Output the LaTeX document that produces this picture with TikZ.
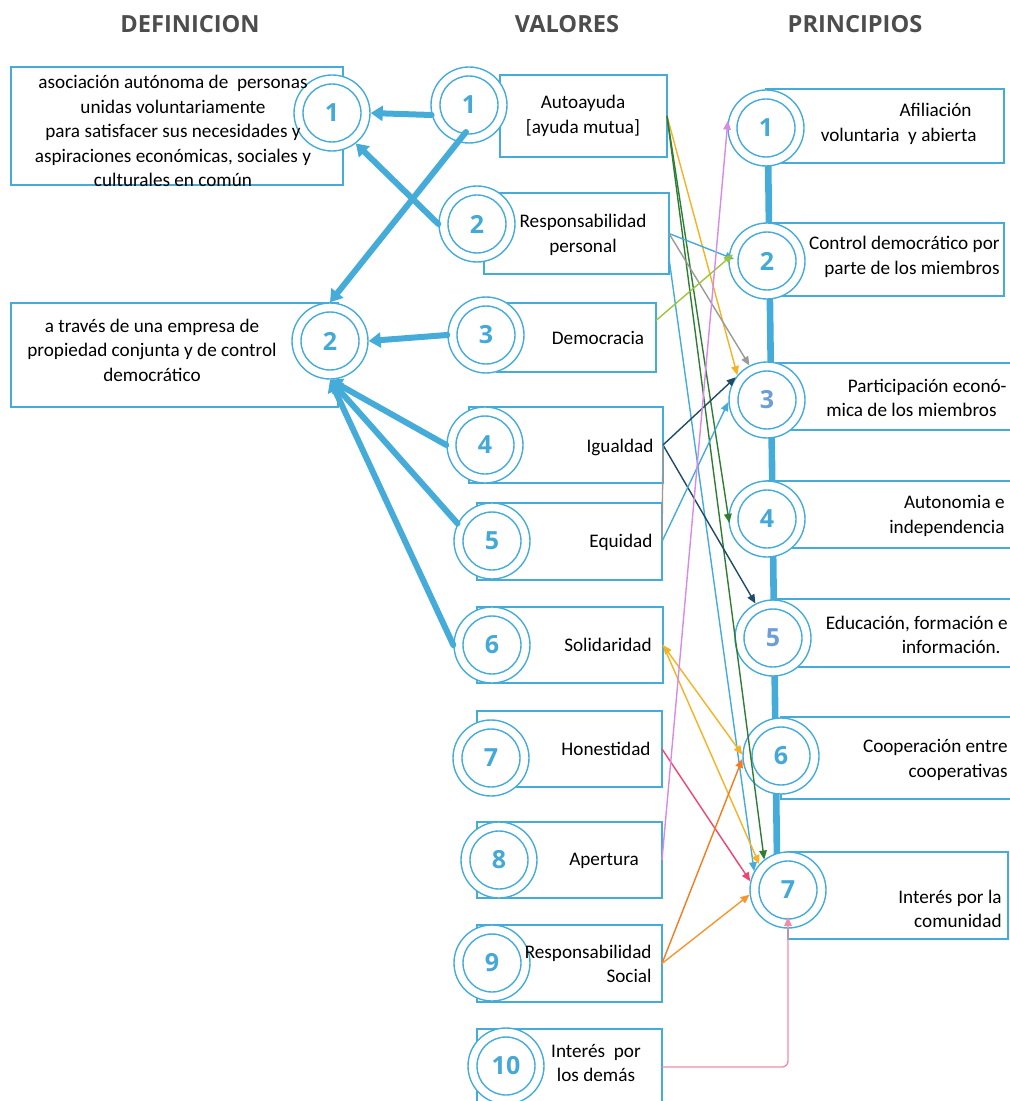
\documentclass[tikz,border=0pt]{standalone}
\usepackage{fontspec}
\setmainfont{Carlito}
\newfontfamily\headfont{Open Sans}
\usetikzlibrary{arrows.meta,calc,fit}

\definecolor{cblue}{HTML}{45ACD9}
\definecolor{nblue}{HTML}{45A9D8}
\definecolor{lblue}{HTML}{6E9ED8}
\definecolor{amber}{HTML}{F5B222}
\definecolor{dgreen}{HTML}{2F7D32}
\definecolor{lgreen}{HTML}{9CC43C}
\definecolor{navy}{HTML}{1F4B66}
\definecolor{rosered}{HTML}{F0456E}
\definecolor{lilac}{HTML}{D68BE6}
\definecolor{carrot}{HTML}{F47B20}
\definecolor{apricot}{HTML}{F7962E}
\definecolor{blush}{HTML}{EE8DA8}
\definecolor{midgray}{HTML}{9A9A9A}
\definecolor{headgray}{HTML}{4D4D4D}

\begin{document}
\begin{tikzpicture}[x=0.5pt, y=-0.5pt, > = {Triangle[length=4.5pt, width=3.8pt]},
    cbox/.style = {draw=cblue, line width=0.65pt, inner sep=0pt, outer sep=0pt},
    ring/.style = {circle, draw=cblue, line width=0.7pt, fill=white, minimum size=38pt, inner sep=0pt, text=nblue, font=\headfont\bfseries\fontsize{12.5}{14}\selectfont, path picture={\draw[cblue, line width=0.7pt] (path picture bounding box.center) circle (14.5pt);}},
    txt/.style = {align=center, inner sep=0pt, font=\fontsize{9.6}{12.25}\selectfont, text=black},
    rtxt/.style = {txt, align=right, anchor=east},
    head/.style = {font=\headfont\bfseries\fontsize{11.8}{14}\selectfont, text=headgray},
    defarrow/.style = {draw=cblue, line width=3pt, line cap=round, -{Triangle[length=6pt, width=7.5pt]}},
    link/.style = {line width=0.7pt, ->},
    spine/.style = {draw=cblue, line width=3.3pt}]

    \useasboundingbox (0,0) rectangle (1010,1101);

    % headings
    \node[head] (hdef) at (190,24) {DEFINICION};
    \node[head] (hval) at (567,24) {VALORES};
    \node[head] (hpri) at (855,24) {PRINCIPIOS};

    % boxes
    \node[cbox, fit={(11,67) (343,185)}] (d1box) {};
    \node[cbox, fit={(11,303) (338,407)}] (d2box) {};
    \node[cbox, fit={(500,75) (667,157)}] (v1box) {};
    \node[cbox, fit={(484,193) (669,274)}] (v2box) {};
    \node[cbox, fit={(497,303) (656,372)}] (v3box) {};
    \node[cbox, fit={(469,407) (663,483)}] (v4box) {};
    \node[cbox, fit={(477,503) (662,580)}] (v5box) {};
    \node[cbox, fit={(477,607) (663,683)}] (v6box) {};
    \node[cbox, fit={(477,711) (662,787)}] (v7box) {};
    \node[cbox, fit={(477,822) (662,898)}] (v8box) {};
    \node[cbox, fit={(477,925) (662,1002)}] (v9box) {};
    \node[cbox, fit={(477,1029) (662,1105)}] (v10box) {};
    \node[cbox, fit={(766,89) (1004,163)}] (p1box) {};
    \node[cbox, fit={(767,223) (1004,296)}] (p2box) {};
    \node[cbox, fit={(767,363) (1016,430)}] (p3box) {};
    \node[cbox, fit={(767,481) (1016,548)}] (p4box) {};
    \node[cbox, fit={(773,599) (1016,667)}] (p5box) {};
    \node[cbox, fit={(781,717) (1016,799)}] (p6box) {};
    \node[cbox, fit={(788,852) (1008,939)}] (p7box) {};

    % spine of the principles
    \coordinate (spinetop) at (768,150);
    \coordinate (spinebot) at (777,860);
    \draw[spine] (spinetop) -- (spinebot);

    % numbered circles
    \node[ring] (d1) at (332,113) {1};
    \node[ring] (d2) at (330,341) {2};
    \node[ring] (v1) at (469,105) {1};
    \node[ring] (v2) at (477,224) {2};
    \node[ring] (v3) at (486,335) {3};
    \node[ring] (v4) at (485,445) {4};
    \node[ring] (v5) at (492,541) {5};
    \node[ring] (v6) at (492,645) {6};
    \node[ring] (v7) at (491,758) {7};
    \node[ring] (v8) at (499,860) {8};
    \node[ring] (v9) at (492,963) {9};
    \node[ring] (v10) at (506,1066) {10};
    \node[ring] (p1) at (766,128) {1};
    \node[ring] (p2) at (767,261) {2};
    \node[ring, text=lblue] (p3) at (767,400) {3};
    \node[ring] (p4) at (767,519) {4};
    \node[ring, text=lblue] (p5) at (773,638) {5};
    \node[ring] (p6) at (781,756) {6};
    \node[ring] (p7) at (788,890) {7};

    % texts
    \node[txt] (d1txt) at (173,131) {asociación autónoma de~ personas\\unidas voluntariamente\\para satisfacer sus necesidades y\\aspiraciones económicas, sociales y\\culturales en común};
    \node[txt] (d2txt) at (152,350) {a través de una empresa de\\propiedad conjunta y de control\\democrático};
    \node[txt] (v1txt) at (583,116) {Autoayuda\\{[ayuda mutua]}};
    \node[txt] (v2txt) at (583,235) {Responsabilidad\\personal};
    \node[txt] (v3txt) at (598,338) {Democracia};
    \node[txt] (v4txt) at (620,447) {Igualdad};
    \node[txt] (v5txt) at (621,542) {Equidad};
    \node[txt] (v6txt) at (608,645) {Solidaridad};
    \node[txt] (v7txt) at (606,749) {Honestidad};
    \node[txt] (v8txt) at (604,861) {Apertura};
    \node[rtxt] (v9txt) at (652,964) {Responsabilidad\\Social};
    \node[txt] (v10txt) at (596,1063) {Interés~ por\\los demás};
    \node[rtxt] (p1txt) at (977,124) {Afiliación\hspace*{2.5pt}\\voluntaria~ y abierta};
    \node[rtxt] (p2txt) at (1000,257) {Control democrático por\\parte de los miembros};
    \node[rtxt] (p3txt) at (1007,398) {Participación econó-\\mica de los miembros\hspace*{5pt}};
    \node[rtxt] (p4txt) at (1005,516) {Autonomia e\\independencia};
    \node[rtxt] (p5txt) at (1008,635) {Educación, formación e\\información.\hspace*{3.5pt}};
    \node[rtxt] (p6txt) at (1008,760) {Cooperación entre\\cooperativas};
    \node[rtxt] (p7txt) at (1002,909) {Interés por la\\comunidad};

    % values to definition
    \draw[defarrow] (v1.195) -- (d1.east);
    \draw[defarrow] (v2.west) -- (d1.-52);
    \draw[defarrow] ($(v1)+(-3,27)$) -- (d2.north);
    \draw[defarrow] (v3.west) -- (d2.east);
    \draw[defarrow] (v4.west) -- (d2.south);
    \draw[defarrow] (v5.153) -- (d2.south);
    \draw[defarrow] (v6.west) -- (d2.south);

    % values to principles
    \draw[link, amber] (v1box.east) -- (p3.140);
    \draw[link, dgreen, shorten >=-3pt] (v1box.east) -- (p4.177);
    \draw[link, dgreen] (v1box.east) -- (p7.128);
    \draw[link, cblue, shorten >=-3pt] (v2box.east) -- (p2.174);
    \draw[link, midgray] (v2box.east) -- (p3.117);
    \draw[link, cblue] ($(v2box.east)+(0,25)$) -- (p7.151);
    \draw[link, lgreen, shorten >=-3pt] ($(v3box.east)+(0,-17)$) -- (p2.176);
    \draw[link, navy] (v4box.east) -- (p3.144);
    \draw[link, navy] (v4box.east) -- (p5.117);
    \draw[midgray, line width=0.7pt] (v4box.east) -- (v5box.east);
    \draw[link, cblue] (v5box.east) -- (p3.183);
    \draw[link, amber, <->] (v6box.east) -- (p6.178);
    \draw[link, amber] (v6box.east) -- (p7.138);
    \draw[link, rosered] (v7box.east) -- (p7.167);
    \draw[link, lilac, shorten >=-3pt] (v8box.east) -- (p1.178);
    \draw[link, carrot] (v9box.east) -- (p6.184);
    \draw[link, apricot] (v9box.east) -- (p7.187);
    \draw[link, blush, rounded corners=3pt] (v10box.east) -| ($(p7)+(0,27)$);

\end{tikzpicture}
\end{document}
